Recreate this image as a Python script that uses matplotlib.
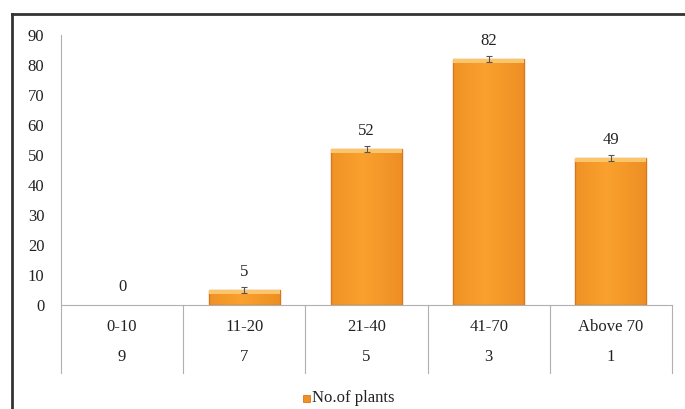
import numpy as np
import matplotlib.pyplot as plt
from matplotlib.lines import Line2D

plt.rcParams['font.family'] = ['Liberation Serif', 'DejaVu Serif']

# Plant counts by class, with the second table row below each class
categories = ['0-10', '11-20', '21-40', '41-70', 'Above 70']
row2 = ['9', '7', '5', '3', '1']
plants = [0, 5, 52, 82, 49]
errors = [0, 1, 1, 1, 1]

fig = plt.figure(figsize=(6.85, 4.09), dpi=100)
ax = fig.add_axes([61 / 685, 1 - 305 / 409, (672 - 61) / 685, (305 - 35) / 409])

x = np.arange(len(categories))
bw = 0.58
bars = ax.bar(x, plants, width=bw, color='#F39024', linewidth=0, zorder=2)

# simple horizontal shading on each bar
grad = np.linspace(0, 1, 64)
shade = 1 - 0.35 * np.abs(grad - 0.45) * 2
cmap_img = np.zeros((1, 64, 4))
cmap_img[0, :, 0] = 0.86 + 0.12 * shade
cmap_img[0, :, 1] = 0.45 + 0.18 * shade
cmap_img[0, :, 2] = 0.08 + 0.10 * shade
cmap_img[0, :, 3] = 1.0
for b, v in zip(bars, plants):
    if v <= 0:
        continue
    x0 = b.get_x()
    ax.imshow(cmap_img, extent=(x0, x0 + bw, 0, v), aspect='auto', zorder=2.5,
              interpolation='bicubic')
    ax.add_patch(plt.Rectangle((x0, 0), bw, v, fill=False, edgecolor='#D9771C', lw=1.0, zorder=3))
    ax.add_patch(plt.Rectangle((x0, v - min(1.2, v * 0.3)), bw, min(1.2, v * 0.3),
                               color='#FBC56B', lw=0, zorder=3))

ax.errorbar(x[1:], plants[1:], yerr=errors[1:], fmt='none', ecolor='#555555',
            elinewidth=0.8, capsize=2.5, capthick=0.8, zorder=4)

for xi, v in zip(x, plants):
    ax.text(xi, v + 6, str(v), ha='center', va='center', fontsize=12, color='#222222')

ax.set_xlim(-0.5, len(categories) - 0.5)
ax.set_ylim(0, 90)
ax.set_yticks(range(0, 91, 10))
ax.tick_params(axis='y', length=0, pad=12, labelsize=12, labelcolor='#222222')
ax.set_xticks([])
for s in ['top', 'right']:
    ax.spines[s].set_visible(False)
ax.spines['left'].set_color('#B0B0B0')
ax.spines['bottom'].set_color('#B0B0B0')
ax.spines['left'].set_linewidth(0.8)
ax.spines['bottom'].set_linewidth(0.8)

# data table below the axis
px = 1 / 270 * 90  # data units per pixel on the y-axis
for i in range(len(categories) + 1):
    ax.add_line(Line2D([i - 0.5, i - 0.5], [0, -68 * px], color='#B0B0B0', lw=0.8, clip_on=False))
for xi, c, r in zip(x, categories, row2):
    ax.text(xi, -22 * px, c, ha='center', va='center', fontsize=12, color='#222222')
    ax.text(xi, -52 * px, r, ha='center', va='center', fontsize=12, color='#222222')

# legend
fig.patches.append(plt.Rectangle((303 / 685, 1 - 402 / 409), 7 / 685, 7 / 409,
                                 transform=fig.transFigure, color='#F39024', ec='#D9771C', lw=0.6))
fig.text(312 / 685, 1 - 398 / 409, 'No.of plants', ha='left', va='center', fontsize=12, color='#222222')

# outer frame (top and left edges)
fig.add_artist(Line2D([12 / 685, 1], [1 - 14 / 409, 1 - 14 / 409], color='#333333', lw=2,
                      transform=fig.transFigure))
fig.add_artist(Line2D([12 / 685, 12 / 685], [0, 1 - 14 / 409], color='#333333', lw=2,
                      transform=fig.transFigure))

fig.savefig('out.png', dpi=100)
